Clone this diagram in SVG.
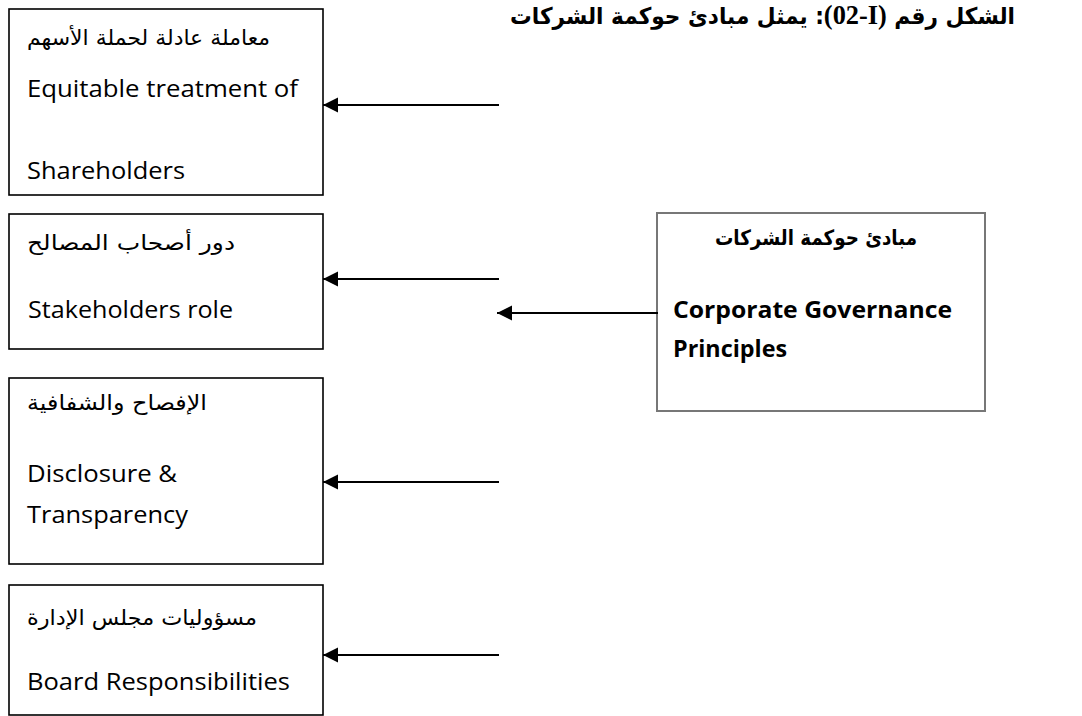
<svg xmlns="http://www.w3.org/2000/svg" width="1082" height="716" viewBox="0 0 1082 716">
<style>
.box{fill:#fff;stroke:#000;stroke-width:1.6}
.cbox{fill:#fff;stroke:#777;stroke-width:2}
.ar{font-family:"DejaVu Sans",sans-serif;font-size:21px;fill:#000}
.arb{font-family:"DejaVu Sans",sans-serif;font-size:21px;font-weight:bold;fill:#000}
.en{font-family:"Open Sans","Liberation Sans",sans-serif;font-size:24px;fill:#000}
.enb{font-family:"Open Sans","Liberation Sans",sans-serif;font-size:24px;font-weight:bold;fill:#000}
.tt{font-family:"DejaVu Sans",sans-serif;font-size:23px;font-weight:bold;fill:#000}
.tn{font-family:"Liberation Serif",serif;font-size:28px;font-weight:bold}
.conn{stroke:#000;stroke-width:2.2;fill:none}
</style>
<defs>
<marker id="ah" markerUnits="userSpaceOnUse" markerWidth="16" markerHeight="16" refX="15" refY="7.5" orient="auto">
<path d="M0,0 L15,7.5 L0,15 z" fill="#000"/>
</marker>
</defs>
<g id="title">
<text class="tt" direction="rtl" text-anchor="start" x="1015" y="24" textLength="505" lengthAdjust="spacingAndGlyphs">الشكل رقم <tspan class="tn">(&#x202A;02-I&#x202C;)</tspan>: يمثل مبادئ حوكمة الشركات</text>
</g>
<g id="node-equitable">
<rect class="box" x="9" y="9" width="314" height="186"/>
<text class="ar" x="27" y="45" textLength="243" lengthAdjust="spacingAndGlyphs">معاملة عادلة لحملة الأسهم</text>
<text class="en" x="27" y="97" textLength="271" lengthAdjust="spacingAndGlyphs">Equitable treatment of</text>
<text class="en" x="27" y="179" textLength="158" lengthAdjust="spacingAndGlyphs">Shareholders</text>
</g>
<g id="node-stakeholders">
<rect class="box" x="9" y="214" width="314" height="135"/>
<text class="ar" x="27" y="250" textLength="208" lengthAdjust="spacingAndGlyphs">دور أصحاب المصالح</text>
<text class="en" x="28" y="318" textLength="205" lengthAdjust="spacingAndGlyphs">Stakeholders role</text>
</g>
<g id="node-disclosure">
<rect class="box" x="9" y="378" width="314" height="186"/>
<text class="ar" x="27" y="410" textLength="180" lengthAdjust="spacingAndGlyphs">الإفصاح والشفافية</text>
<text class="en" x="27" y="482" textLength="150" lengthAdjust="spacingAndGlyphs">Disclosure &amp;</text>
<text class="en" x="27" y="523" textLength="161" lengthAdjust="spacingAndGlyphs">Transparency</text>
</g>
<g id="node-board">
<rect class="box" x="9" y="585" width="314" height="130"/>
<text class="ar" x="27" y="625" textLength="230" lengthAdjust="spacingAndGlyphs">مسؤوليات مجلس الإدارة</text>
<text class="en" x="27" y="690" textLength="263" lengthAdjust="spacingAndGlyphs">Board Responsibilities</text>
</g>
<g id="node-principles">
<rect class="cbox" x="657" y="213" width="328" height="198"/>
<text class="arb" x="715" y="245" textLength="202" lengthAdjust="spacingAndGlyphs">مبادئ حوكمة الشركات</text>
<text class="enb" x="673" y="318" textLength="279" lengthAdjust="spacingAndGlyphs">Corporate Governance</text>
<text class="enb" x="673" y="357" textLength="114" lengthAdjust="spacingAndGlyphs">Principles</text>
</g>
<g id="connectors">
<line class="conn" x1="499" y1="105" x2="323" y2="105" marker-end="url(#ah)"/>
<line class="conn" x1="499" y1="279" x2="323" y2="279" marker-end="url(#ah)"/>
<line class="conn" x1="658" y1="313" x2="497" y2="313" marker-end="url(#ah)"/>
<line class="conn" x1="499" y1="482" x2="323" y2="482" marker-end="url(#ah)"/>
<line class="conn" x1="499" y1="655" x2="323" y2="655" marker-end="url(#ah)"/>
</g>
</svg>
